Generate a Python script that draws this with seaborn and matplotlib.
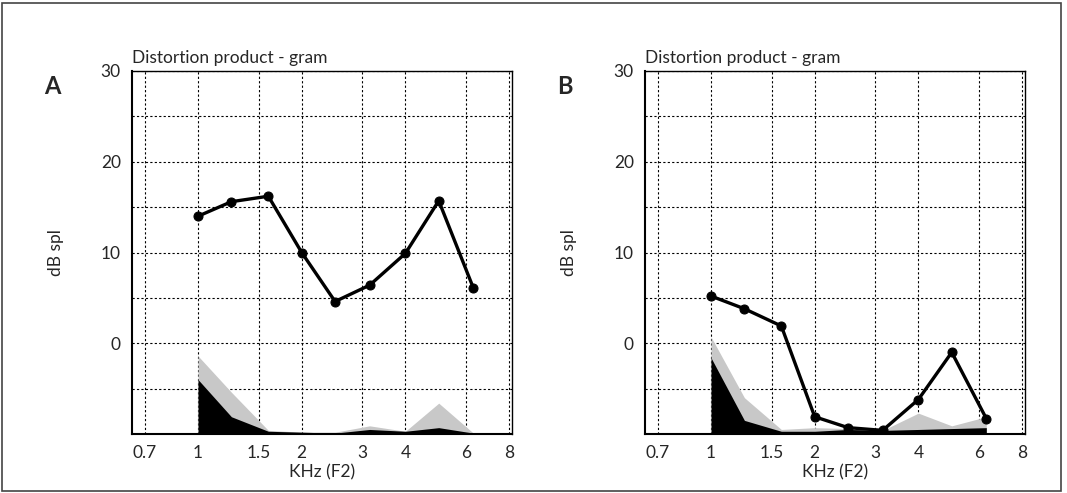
import matplotlib
matplotlib.use("Agg")
import matplotlib.pyplot as plt
from matplotlib.patches import Rectangle
from matplotlib.ticker import NullLocator, FixedLocator
import seaborn as sns

# -------------------------------
# DATA
# -------------------------------
freqs = [1.0, 1.25, 1.6, 2.0, 2.5, 3.15, 4.0, 5.0, 6.3]  # kHz (F2)

dp_a = [14.0, 15.6, 16.2, 10.0, 4.6, 6.4, 9.9, 15.7, 6.1]
noise_gray_a = [-1.4, -5.4, -9.6, -9.8, -9.8, -9.1, -9.7, -6.6, -9.9]
noise_black_a = [-4.0, -8.1, -9.7, -9.8, -9.9, -9.5, -9.7, -9.3, -9.9]

dp_b = [5.2, 3.8, 1.9, -8.1, -9.3, -9.6, -6.2, -1.0, -8.3]
noise_gray_b = [0.7, -6.0, -9.5, -9.3, -9.4, -9.6, -7.7, -9.1, -8.1]
noise_black_b = [-1.6, -8.5, -9.7, -9.7, -9.5, -9.6, -9.5, -9.4, -9.3]

xticks = [0.7, 1, 1.5, 2, 3, 4, 6, 8]
xtick_labels = ["0.7", "1", "1.5", "2", "3", "4", "6", "8"]
yticks = [0, 10, 20, 30]
ygrid_minor = [-5, 5, 15, 25]

panels = [
    ("A", dp_a, noise_gray_a, noise_black_a),
    ("B", dp_b, noise_gray_b, noise_black_b),
]

# -------------------------------
# STYLE
# -------------------------------
sns.set_style("white")
plt.rcParams["font.family"] = ["Lato", "DejaVu Sans"]
fs = 12.5

W, H = 1067, 493
fig = plt.figure(figsize=(W / 100, H / 100), dpi=100)

ax_left_px = [132, 645]
ax_w_px = 380
ax_top_px, ax_bot_px = 71, 434

for i, (letter, dp, gray, black) in enumerate(panels):
    ax = fig.add_axes([ax_left_px[i] / W, 1 - ax_bot_px / H,
                       ax_w_px / W, (ax_bot_px - ax_top_px) / H])
    ax.set_xscale("log")
    ax.set_xlim(0.643, 8.16)
    ax.set_ylim(-10, 30)
    ax.set_axisbelow(True)

    # noise floor areas
    ax.fill_between(freqs, -10, gray, color="#c8c8c8", lw=0, zorder=2)
    ax.fill_between(freqs, -10, black, color="black", lw=0, zorder=3)

    # DP-gram line
    sns.lineplot(x=freqs, y=dp, ax=ax, color="black", lw=2.4,
                 marker="o", markersize=6.5, markeredgecolor="black",
                 zorder=5, legend=False)

    ax.set_xticks(xticks)
    ax.set_xticklabels(xtick_labels)
    ax.xaxis.set_minor_locator(NullLocator())
    ax.set_yticks(yticks)
    ax.set_yticklabels([str(v) for v in yticks])
    ax.yaxis.set_minor_locator(FixedLocator(ygrid_minor))

    ax.grid(True, which="both", color="black", linestyle=(0, (2, 2)), lw=0.8)
    ax.tick_params(axis="both", which="major", direction="out", length=5,
                   width=0.8, color="black", labelsize=fs, pad=3)
    ax.tick_params(axis="y", which="minor", direction="out", length=5,
                   width=0.8, color="black")

    for side in ["top", "right"]:
        ax.spines[side].set_linewidth(1.0)
        ax.spines[side].set_color("black")
    for side in ["left", "bottom"]:
        ax.spines[side].set_linewidth(1.5)
        ax.spines[side].set_color("black")

    ax.set_xlabel("KHz (F2)", fontsize=fs, labelpad=2)
    ax.set_ylabel("dB spl", fontsize=fs)
    ax.yaxis.set_label_coords(-0.18, 0.5)
    ax.set_title("Distortion product - gram", loc="left", fontsize=fs, pad=6)

    fig.text((ax_left_px[i] - 80) / W, 1 - 87 / H, letter,
             fontsize=17, fontweight="bold", ha="center", va="center")

# outer frame
fig.add_artist(Rectangle((2 / W, 2 / H), 1059 / W, 488 / H,
                         transform=fig.transFigure, fill=False,
                         ec="#444444", lw=1.2))

fig.savefig("out.png", dpi=100)
plt.close(fig)
